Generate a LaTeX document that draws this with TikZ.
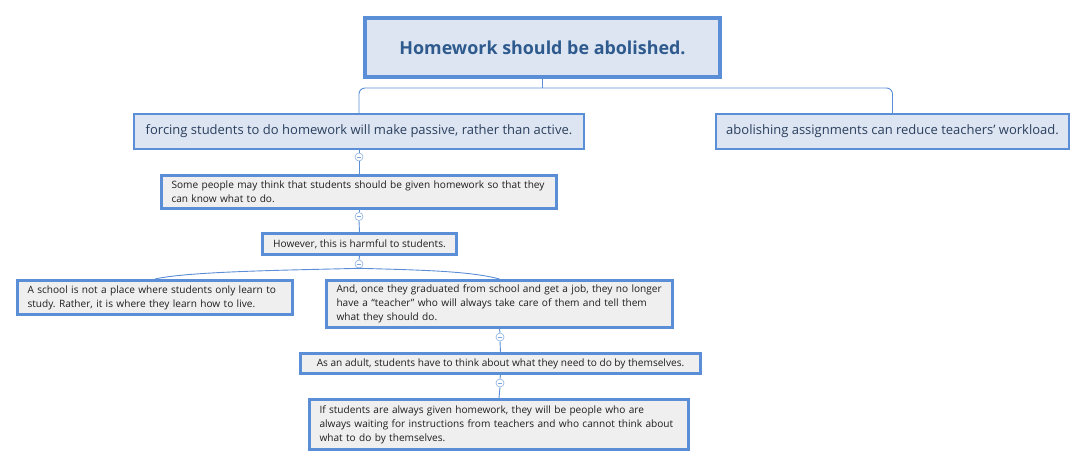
\documentclass[tikz,border=0pt]{standalone}
\usepackage{fontspec}
\setmainfont{Open Sans}
\frenchspacing
\hfuzz=100pt
\definecolor{bord}{HTML}{5A8ED6}
\definecolor{lfill}{HTML}{DCE5F1}
\definecolor{gfill}{HTML}{EFEFEF}
\definecolor{roottxt}{HTML}{2E5A8E}
\definecolor{childtxt}{HTML}{2B3F5E}
\definecolor{smalltxt}{HTML}{1E1E1E}
\newcommand{\tline}[1]{\mbox{#1}}
\begin{document}
\begin{tikzpicture}[x=1pt,y=-1pt,
  rootbox/.style={draw=bord,fill=lfill,line width=4pt,minimum width=355pt,minimum height=59pt,inner sep=0pt,
    font=\fontsize{17.9}{21}\selectfont\bfseries,text=roottxt},
  childbox/.style={draw=bord,fill=lfill,line width=2pt,minimum height=35pt,inner sep=0pt,
    font=\fontsize{13}{16}\selectfont,text=childtxt},
  smallbox/.style={draw=bord,fill=gfill,line width=3pt,inner xsep=0pt,inner ysep=0pt,
    font=\fontsize{10.1}{14}\selectfont,text=smalltxt,align=left},
  conn/.style={draw=bord,line width=0.9pt},
  toggle/.style={circle,draw=bord!70,fill=white,line width=0.6pt,minimum size=8pt,inner sep=0pt,
    path picture={\draw[bord!80,line width=0.6pt] ([xshift=-2pt]path picture bounding box.center) -- ([xshift=2pt]path picture bounding box.center);}}
]
\useasboundingbox (0,0) rectangle (1086,467);

\node[rootbox] (root) at (542.5,47.5) {Homework should be abolished.};
\node[childbox,minimum width=450pt] (c1) at (359,131.5) {forcing students to do homework will make passive, rather than active.};
\node[childbox,minimum width=353pt] (c2) at (892.5,131.5) {abolishing assignments can reduce teachers’ workload.};

\node[smallbox,minimum width=395pt,minimum height=33pt,text width=375pt] (some) at (359,192)
  {\tline{Some people may think that students should be given homework so that they}\\\tline{can know what to do.}};
\node[smallbox,minimum width=194pt,minimum height=21pt,align=center] (how) at (359.5,244)
  {However, this is harmful to students.};
\node[smallbox,minimum width=275pt,minimum height=34pt,text width=255pt] (school) at (155,297.5)
  {\tline{A school is not a place where students only learn to}\\\tline{study. Rather, it is where they learn how to live.}};
\node[smallbox,minimum width=346pt,minimum height=47pt,text width=326pt] (once) at (499.5,304)
  {\tline{And, once they graduated from school and get a job, they no longer}\\\tline{have a “teacher” who will always take care of them and tell them}\\\tline{what they should do.}};
\node[smallbox,minimum width=400pt,minimum height=20pt,align=center] (adult) at (500.5,363.5)
  {As an adult, students have to think about what they need to do by themselves.};
\node[smallbox,minimum width=379pt,minimum height=50pt,text width=359pt] (ifs) at (499,424.5)
  {\tline{If students are always given homework, they will be people who are}\\\tline{always waiting for instructions from teachers and who cannot think about}\\\tline{what to do by themselves.}};

% root connectors
\coordinate (j) at (542.5,88);
\draw[conn] (root.south) -- (j);
\draw[conn,rounded corners=6pt] (c1.north) |- (j) -| (c2.north);

% toggles
\node[toggle] (t1) at (359,157) {};
\node[toggle] (t2) at (359,216.5) {};
\node[toggle] (t3) at (359,264) {};
\node[toggle] (t4) at (500,337) {};
\node[toggle] (t5) at (500,383) {};

\draw[conn] (c1.south) -- (t1.north);
\draw[conn] (t1.south) -- (some.north);
\draw[conn] (some.south) -- (t2.north);
\draw[conn] (t2.south) -- (how.north);
\draw[conn] (how.south) -- (t3.north);
\draw[conn] (t3.south) .. controls (300,270) and (190,271) .. (school.north);
\draw[conn] (t3.south) .. controls (420,270) and (470,271) .. (once.north);
\draw[conn] (once.south) -- (t4.north);
\draw[conn] (t4.south) -- (adult.north);
\draw[conn] (adult.south) -- (t5.north);
\draw[conn] (t5.south) -- (ifs.north);
\end{tikzpicture}
\end{document}
